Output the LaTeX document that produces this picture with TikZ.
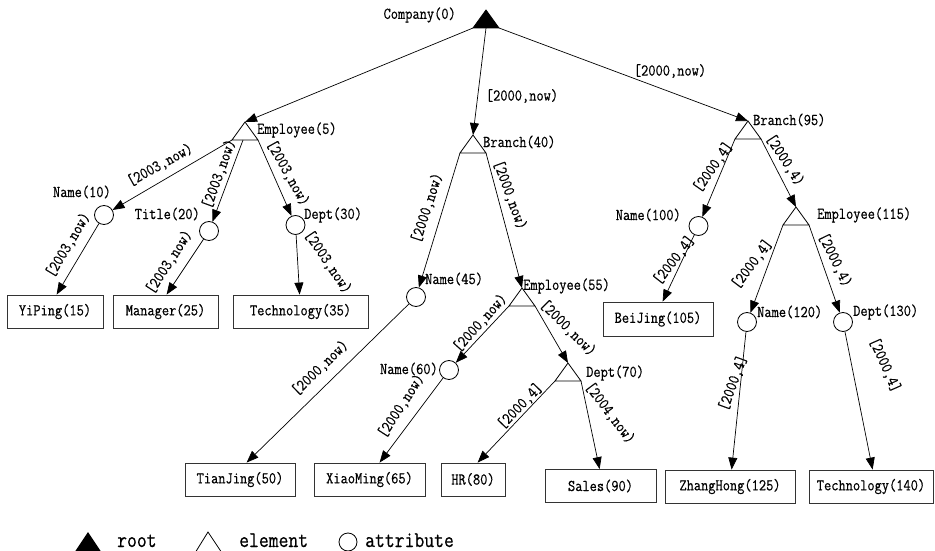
\documentclass[tikz,border=0pt]{standalone}
\usepackage{fontspec}
\newfontfamily\dmono{Latin Modern Mono}[FakeStretch=0.85,FakeBold=0.5]
\usetikzlibrary{arrows.meta,calc}
\newcommand\mkelem[4][]{%
  \coordinate (#2-a) at (#3,#4);
  \coordinate (#2-l) at ($(#2-a)+(-13,18)$);
  \coordinate (#2-r) at ($(#2-a)+(13,18)$);
  \coordinate (#2-m) at ($(#2-a)+(0,18)$);
  \draw[tri,#1] (#2-a) -- (#2-l) -- (#2-r) -- cycle;
}
\tikzset{
  txt/.style={font=\dmono\fontsize{16.5}{18}\selectfont, inner sep=0pt},
  elbl/.style={txt},
  attr/.style={circle, draw, minimum size=19pt, inner sep=0pt, line width=0.8pt},
  val/.style={draw=black!80, text=black, minimum height=33pt, inner sep=0pt, line width=0.8pt, txt},
  conn/.style={line width=0.7pt, -{Triangle[length=12pt,width=9pt]}},
  tri/.style={line width=0.8pt},
  legtxt/.style={font=\dmono\fontsize{22.5}{24}\selectfont, inner sep=0pt, text depth=0pt, anchor=base west},
}
\begin{document}
\begin{tikzpicture}[x=1pt,y=-1pt]
\useasboundingbox (0,0) rectangle (935,551);
% ---------- structural nodes
\mkelem[fill=black]{root}{486}{10}
\mkelem{emp5}{245}{122}
\mkelem{br40}{473}{135}
\mkelem{emp55}{522}{288}
\mkelem{d70}{568}{363}
\mkelem{br95}{748}{121}
\mkelem{emp115}{796}{207}

\node[attr] (n10) at (104,215) {};
\node[attr] (t20) at (209,231) {};
\node[attr] (d30) at (295.5,225) {};
\node[attr] (n45) at (416,297) {};
\node[attr] (n60) at (449,370) {};
\node[attr] (n100) at (698.5,226) {};
\node[attr] (n120) at (747,322) {};
\node[attr] (d130) at (843,322) {};

\node[val, minimum width=96pt] (yiping) at (55,311.5) {YiPing(15)};
\node[val, minimum width=105pt] (manager) at (165.5,311.5) {Manager(25)};
\node[val, minimum width=135pt] (tech35) at (300.5,311.5) {Technology(35)};
\node[val, minimum width=110pt] (tianjing) at (240,479.5) {TianJing(50)};
\node[val, minimum width=111pt] (xiaoming) at (369.5,479.5) {XiaoMing(65)};
\node[val, minimum width=64pt] (hr) at (473,479.5) {HR(80)};
\node[val, minimum width=111pt] (sales) at (600.5,486) {Sales(90)};
\node[val, minimum width=110pt, minimum height=34pt] (beijing) at (658,319) {BeiJing(105)};
\node[val, minimum width=130pt] (zhanghong) at (730,486.5) {ZhangHong(125)};
\node[val, minimum width=124pt] (tech140) at (871,486.5) {Technology(140)};

% ---------- node names
\node[txt, anchor=east] (l-root) at (456,15) {Company(0)};
\node[txt, anchor=west] (l-emp5) at (257,130) {Employee(5)};
\node[txt, anchor=east] (l-n10) at (111,192) {Name(10)};
\node[txt, anchor=east] (l-t20) at (200,214) {Title(20)};
\node[txt, anchor=west] (l-d30) at (304,215) {Dept(30)};
\node[txt, anchor=west] (l-br40) at (483,142) {Branch(40)};
\node[txt, anchor=west] (l-n45) at (425,279) {Name(45)};
\node[txt, anchor=west] (l-emp55) at (523,286) {Employee(55)};
\node[txt, anchor=east] (l-n60) at (438,369) {Name(60)};
\node[txt, anchor=west] (l-d70) at (586,373) {Dept(70)};
\node[txt, anchor=west] (l-br95) at (753,120) {Branch(95)};
\node[txt, anchor=east] (l-n100) at (681,215) {Name(100)};
\node[txt, anchor=west] (l-emp115) at (817,215) {Employee(115)};
\node[txt, anchor=west] (l-n120) at (757,312) {Name(120)};
\node[txt, anchor=west] (l-d130) at (853,312) {Dept(130)};

% ---------- connectors
\draw[conn] (root-l) -- (emp5-a);
\draw[conn] (root-m) -- (br40-a);
\draw[conn] (root-r) -- (br95-a);
\draw[conn] (emp5-l) -- (n10);
\draw[conn] ($(emp5-m)+(-2,0)$) -- (t20);
\draw[conn] (emp5-r) -- (d30);
\draw[conn] (n10) -- ($(yiping.north west)+(50,0)$);
\draw[conn] (t20) -- ($(manager.north west)+(54,0)$);
\draw[conn] (d30) -- ($(tech35.north west)+(67,0)$);
\draw[conn] (br40-l) -- (n45);
\draw[conn] (br40-r) -- (emp55-a);
\draw[conn] (n45) -- ($(tianjing.north west)+(62,0)$);
\draw[conn] (emp55-l) -- (n60);
\draw[conn] (emp55-r) -- (d70-a);
\draw[conn] (n60) -- ($(xiaoming.north west)+(66,0)$);
\draw[conn] (d70-l) -- ($(hr.north west)+(37,0)$);
\draw[conn] (d70-r) -- ($(sales.north west)+(55,0)$);
\draw[conn] (br95-l) -- (n100);
\draw[conn] (br95-r) -- (emp115-a);
\draw[conn] (n100) -- ($(beijing.north west)+(60,0)$);
\draw[conn] (emp115-l) -- (n120);
\draw[conn] (emp115-r) -- (d130);
\draw[conn] (n120) -- ($(zhanghong.north west)+(67,0)$);
\draw[conn] (d130) -- ($(tech140.north west)+(64,0)$);

% ---------- connector labels
\node[elbl, rotate=29]  (e1)  at (160,165) {[2003,now)};
\node[elbl, rotate=70]  (e2)  at (219,174) {[2003,now)};
\node[elbl, rotate=-61] (e3)  at (288,173) {[2003,now)};
\node[elbl, rotate=59]  (e4)  at (68,245)  {[2003,now)};
\node[elbl, rotate=57]  (e5)  at (169,262) {[2003,now)};
\node[elbl, rotate=-56] (e6)  at (328,262) {[2003,now)};
\node[elbl]             (e7)  at (522,96)  {[2000,now)};
\node[elbl]             (e8)  at (670,71)  {[2000,now)};
\node[elbl, rotate=72]  (e9)  at (427,208) {[2000,now)};
\node[elbl, rotate=-70] (e10) at (510,195) {[2000,now)};
\node[elbl, rotate=44]  (e11) at (320,368) {[2000,now)};
\node[elbl, rotate=48]  (e12) at (480,323) {[2000,now)};
\node[elbl, rotate=-45] (e13) at (568,328) {[2000,now)};
\node[elbl, rotate=57]  (e14) at (401,406) {[2000,now)};
\node[elbl, rotate=46]  (e15) at (520,406) {[2000,4]};
\node[elbl, rotate=-53] (e16) at (610,413) {[2004,now)};
\node[elbl, rotate=55]  (e17) at (713,167) {[2000,4]};
\node[elbl, rotate=-57] (e18) at (785,160) {[2000,4)};
\node[elbl, rotate=52]  (e19) at (674,260) {[2000,4]};
\node[elbl, rotate=53]  (e20) at (752,264) {[2000,4]};
\node[elbl, rotate=-64] (e21) at (835,260) {[2000,4)};
\node[elbl, rotate=70]  (e22) at (733,383) {[2000,4]};
\node[elbl, rotate=-66] (e23) at (885,365) {[2000,4]};

% ---------- legend
\fill (88,532) -- (74,553) -- (102,553) -- cycle;
\node[legtxt] (lg1) at (117,547) {root};
\draw[tri] (208,532) -- (195,553) -- (222,553) -- cycle;
\node[legtxt] (lg2) at (239,547) {element};
\node[circle, draw, minimum size=18pt, inner sep=0pt, line width=0.8pt] (lg3c) at (348,542) {};
\node[legtxt] (lg3) at (365,547) {attribute};
\end{tikzpicture}
\end{document}
